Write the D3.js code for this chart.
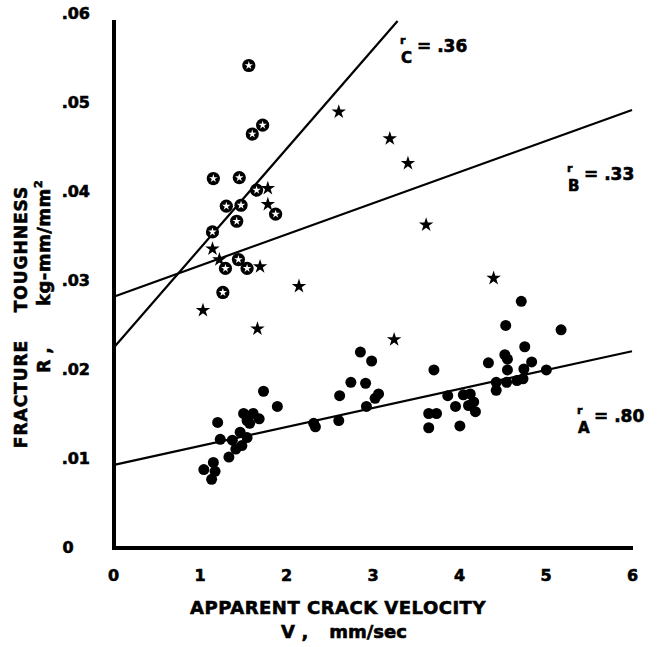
<!DOCTYPE html>
<html>
<head>
<meta charset="utf-8">
<script src="https://cdn.jsdelivr.net/npm/d3@7"></script>
<style>
    body { margin: 0; background: #fff; }
    svg text { font-family: "DejaVu Sans", sans-serif; font-weight: bold; fill: #000; stroke: #000; stroke-width: 0.6px; }
</style>
</head>
<body>
<script>

// tick values
const xTicks = [0, 1, 2, 3, 4, 5, 6];
const yTicks = [0, .01, .02, .03, .04, .05, .06];
const yTickLabels = ['0', '.01', '.02', '.03', '.04', '.05', '.06'];

// series A: filled dots [V mm/sec, R kg-mm/mm2]
const seriesA = [
    [1.74, .0175], [1.90, .0158], [1.21, .0140], [1.24, .0121], [1.38, .0120],
    [1.62, .0150], [1.69, .0144], [1.55, .0142], [1.58, .0139], [1.47, .0129],
    [1.55, .0123], [1.49, .0114], [1.42, .0110], [1.34, .0101], [1.16, .0095],
    [1.05, .0087], [1.18, .0085], [1.14, .0076], [1.51, .0150],
    [2.86, .0219], [2.99, .0209], [2.75, .0185], [2.92, .0184], [2.62, .0170],
    [3.07, .0172], [3.03, .0167], [2.93, .0158], [2.61, .0142], [2.32, .0139],
    [2.34, .0135], [3.71, .0199], [3.65, .0150], [3.74, .0150], [3.65, .0134],
    [4.72, .0276], [4.54, .0249], [5.18, .0244], [4.76, .0225], [4.53, .0216],
    [4.56, .0211], [4.34, .0207], [4.84, .0208], [4.56, .0199], [4.75, .0200],
    [5.01, .0199], [4.74, .0189], [4.67, .0187], [4.55, .0185], [4.43, .0185],
    [4.43, .0176], [4.13, .0172], [4.05, .0171], [3.87, .0170], [4.17, .0163],
    [4.11, .0159], [3.96, .0158], [4.19, .0152], [4.01, .0136]
];

// series B: stars
const seriesB = [
    [1.79, .0403], [1.79, .0385], [1.15, .0335], [1.23, .0323], [1.70, .0315],
    [2.15, .0293], [1.04, .0266], [1.67, .0245], [2.61, .0489], [3.20, .0459],
    [3.41, .0431], [3.62, .0362], [4.40, .0302], [3.25, .0233]
];

// series C: open circles
const seriesC = [
    [1.57, .0541], [1.73, .0474], [1.61, .0464], [1.16, .0414], [1.46, .0415],
    [1.66, .0401], [1.31, .0383], [1.48, .0384], [1.43, .0366], [1.15, .0354],
    [1.88, .0374], [1.30, .0313], [1.45, .0323], [1.55, .0313], [1.27, .0286]
];

// fitted lines (end points)
const lineA = [[0, .0092], [6, .0220]];
const lineB = [[0, .0281], [6, .0491]];
const lineC = [[0, .0223], [3.29, .0591]];

const SCREEN = { width: 657, height: 647 };

const svg = d3.select('body').append('svg')
    .attr('width', SCREEN.width)
    .attr('height', SCREEN.height);

const x = d3.scaleLinear().domain([0, 6]).range([113, 632]);
const y = d3.scaleLinear().domain([0, .06]).range([547, 13]);

// axes (labels only, lines drawn below)
const xAxisGroup = svg.append('g')
    .attr('transform', `translate(0, ${y(0)})`)
    .call(d3.axisBottom(x).tickValues(xTicks).tickSize(0).tickPadding(23).tickFormat(d3.format('d')));

const yAxisGroup = svg.append('g')
    .attr('transform', `translate(${x(0)}, 0)`)
    .call(d3.axisLeft(y).tickValues(yTicks).tickSize(0).tickPadding(23)
        .tickFormat((d, i) => yTickLabels[i]));

[xAxisGroup, yAxisGroup].forEach(g => {
    g.select('.domain').remove();
    g.attr('font-family', null).attr('font-size', null);
    g.selectAll('text').style('font-size', '16px');
});
// the zero label sits a bit left in the original
yAxisGroup.selectAll('.tick text').filter(d => d === 0)
    .attr('x', -45).attr('text-anchor', 'middle');

// heavy axis lines
svg.append('line')
    .attr('x1', x(0) + 1).attr('x2', x(0) + 1)
    .attr('y1', 20).attr('y2', y(0) + 2)
    .attr('stroke', '#000').attr('stroke-width', 4);
svg.append('line')
    .attr('x1', x(0) - 1).attr('x2', x(6) + 1)
    .attr('y1', y(0) + 1).attr('y2', y(0) + 1)
    .attr('stroke', '#000').attr('stroke-width', 4);

// regression lines
const line = d3.line().x(d => x(d[0])).y(d => y(d[1]));
[lineA, lineB, lineC].forEach(l => {
    svg.append('path')
        .datum(l)
        .attr('d', line)
        .attr('fill', 'none')
        .attr('stroke', '#000')
        .attr('stroke-width', 2.2);
});

// series A: filled dots
svg.append('g').selectAll('circle')
    .data(seriesA)
    .join('circle')
    .attr('cx', d => x(d[0]))
    .attr('cy', d => y(d[1]))
    .attr('r', 5.5)
    .attr('fill', '#000');

// series B: stars
const star = d3.symbol().type(d3.symbolStar);
svg.append('g').selectAll('path')
    .data(seriesB)
    .join('path')
    .attr('transform', d => `translate(${x(d[0])},${y(d[1])})`)
    .attr('d', star.size(65)())
    .attr('fill', '#000');

// series C: ring with a star-shaped hole
const cGroups = svg.append('g').selectAll('g')
    .data(seriesC)
    .join('g')
    .attr('transform', d => `translate(${x(d[0])},${y(d[1])})`);
cGroups.append('circle').attr('r', 6.6).attr('fill', '#000');
cGroups.append('path').attr('d', d3.symbol().type(d3.symbolStar).size(22)()).attr('fill', '#fff');

// correlation labels
const rLabels = [
    { sub: 'C', val: '= .36', x: 400, y: 52 },
    { sub: 'B', val: '= .33', x: 567, y: 180 },
    { sub: 'A', val: '= .80', x: 577, y: 422 }
];
rLabels.forEach(r => {
    svg.append('text').attr('x', r.x).attr('y', r.y - 8).style('font-size', '11px').text('r');
    svg.append('text').attr('x', r.x + 1).attr('y', r.y + 11).style('font-size', '15px').text(r.sub);
    svg.append('text').attr('x', r.x + 17).attr('y', r.y).style('font-size', '17px').text(r.val);
});

// axis titles
svg.append('text')
    .attr('x', 338).attr('y', 614)
    .attr('text-anchor', 'middle')
    .style('font-size', '18px')
    .style('letter-spacing', '0.5px')
    .text('APPARENT CRACK VELOCITY');
svg.append('text').attr('x', 288).attr('y', 638).attr('text-anchor', 'middle').style('font-size', '18px').text('V');
svg.append('text').attr('x', 305).attr('y', 638).attr('text-anchor', 'middle').style('font-size', '18px').text(',');
svg.append('text').attr('x', 368).attr('y', 638).attr('text-anchor', 'middle').style('font-size', '18px').text('mm/sec');

svg.append('text')
    .attr('transform', 'translate(27, 394) rotate(-90)')
    .attr('text-anchor', 'middle')
    .style('font-size', '17px')
    .style('letter-spacing', '1px')
    .text('FRACTURE');
svg.append('text')
    .attr('transform', 'translate(27, 249) rotate(-90)')
    .attr('text-anchor', 'middle')
    .style('font-size', '17px')
    .style('letter-spacing', '1px')
    .text('TOUGHNESS');
svg.append('text')
    .attr('transform', 'translate(50, 360) rotate(-90)')
    .attr('text-anchor', 'middle')
    .style('font-size', '17px')
    .text('R ,');
const kg = svg.append('text')
    .attr('transform', 'translate(50, 243) rotate(-90)')
    .attr('text-anchor', 'middle')
    .style('font-size', '18px')
    .style('letter-spacing', '0.5px')
    .text('kg-mm/mm');
kg.append('tspan').attr('dy', -8).style('font-size', '11px').text('2');

</script>
</body>
</html>
